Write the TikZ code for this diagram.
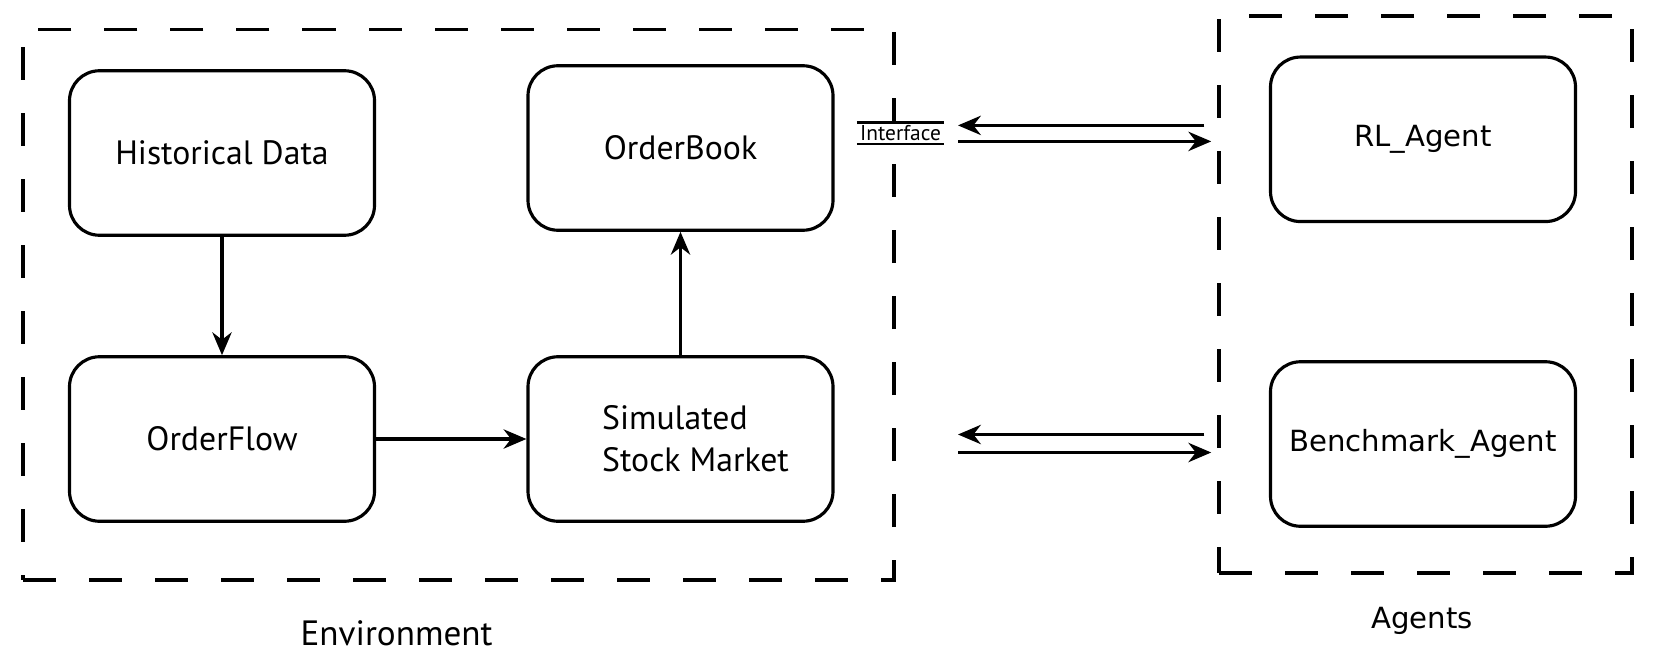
\documentclass[tikz,border=0pt]{standalone}
\usepackage{fontspec}
\setmainfont{PT Sans}
\newfontfamily\agentfont{DejaVu Sans}
\usetikzlibrary{arrows.meta,positioning}

\tikzset{
  block/.style={draw, rounded corners=0.3cm, line width=0.9pt, minimum width=3.05cm, minimum height=1.645cm, font=\fontsize{9.6}{12}\selectfont},
  agent/.style={block, font=\agentfont\fontsize{8.3}{10}\selectfont},
  groupbox/.style={draw, inner sep=0pt, line width=1pt, dash pattern=on 0.33cm off 0.33cm},
}

\begin{document}
\begin{tikzpicture}[>={Stealth[length=6.5pt,width=5.5pt]}, line width=0.9pt, node distance=2.86cm]
\useasboundingbox (0,0) rectangle (16.54,-6.64);

% environment
\node[block] (hist) at (2.22,-1.53) {Historical Data};
 \node[block] (flow) [below of=hist] {OrderFlow};
\node[block] (book) [right of=hist, node distance=4.585cm, yshift=0.05cm] {OrderBook};
 \node[block, align=left] (sim) [below of=hist, xshift=4.585cm] {\hspace*{0.3cm}Simulated\\\hspace*{0.3cm}Stock Market};

\node[groupbox, minimum width=8.71cm, minimum height=5.505cm] (env) at (4.585,-3.0475) {};
\node[font=\fontsize{10}{12}\selectfont] (envlabel) at (3.966,-6.33) {Environment};

\path[->] (hist) edge (flow)
          (flow) edge (sim)
          (sim)  edge (book);

% agents
\node[agent] (rl) at (14.23,-1.393) {RL\_Agent};
 \node[agent] (bench) [below of=rl, node distance=3.047cm] {Benchmark\_Agent};

\node[groupbox, minimum width=4.13cm, minimum height=5.57cm] (agents) at (14.255,-2.945) {};
\node[font=\agentfont\fontsize{8.3}{10}\selectfont] (agentslabel) at (14.22,-6.21) {Agents};

% interface
\node[fill=white, inner xsep=0.5pt, inner ysep=0.5pt, text height=4.3pt, text depth=0pt, font=\fontsize{6.1}{7}\selectfont] (intf) at (9.005,-1.334) {Interface};
\draw[line width=0.6pt] (intf.north west) -- (intf.north east)
                        (intf.south west) -- (intf.south east);

\coordinate (ifR) at (9.58,-1.334);
\coordinate (mkR) at (9.58,-4.435);

\draw[->, shorten <=1.3mm] ([yshift=0.8mm]ifR -| agents.west) -- ([yshift=0.8mm]ifR);
\draw[->, shorten >=0.6mm] ([yshift=-0.8mm]ifR) -- ([yshift=-0.8mm]ifR -| agents.west);
\draw[->, shorten <=1.3mm] ([yshift=0.9mm]mkR -| agents.west) -- ([yshift=0.9mm]mkR);
\draw[->, shorten >=0.6mm] ([yshift=-0.9mm]mkR) -- ([yshift=-0.9mm]mkR -| agents.west);
\end{tikzpicture}
\end{document}
